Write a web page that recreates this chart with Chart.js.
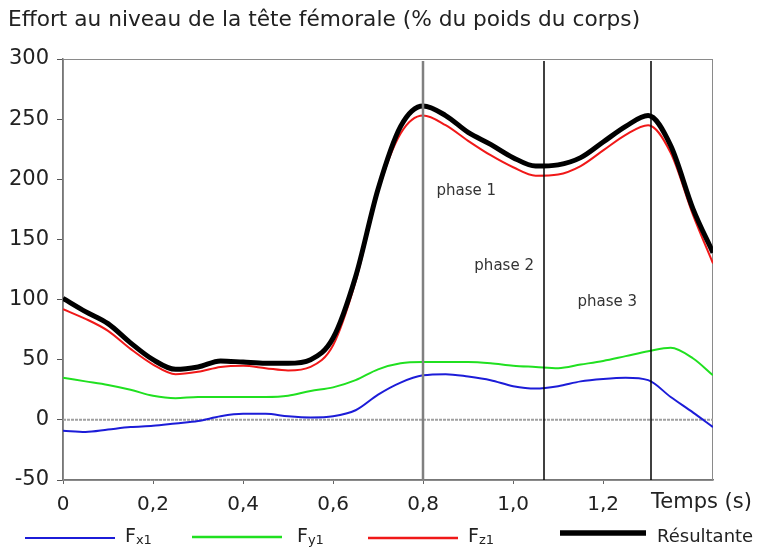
<!DOCTYPE html>
<html>
<head>
<meta charset="utf-8">
<script src="https://cdn.jsdelivr.net/npm/chart.js@4/dist/chart.umd.min.js"></script>
<style>
  body { margin: 0; background: #fff; }
  canvas { display: block; }
</style>
</head>
<body>
<canvas id="myChart" width="761" height="549"></canvas>
<script>
'use strict';

// Time (s), every 0.05 s
let temps = [0, 0.05, 0.1, 0.15, 0.2, 0.25, 0.3, 0.35, 0.4, 0.45, 0.5, 0.55, 0.6, 0.65, 0.7,
  0.75, 0.8, 0.85, 0.9, 0.95, 1.0, 1.05, 1.1, 1.15, 1.2, 1.25, 1.3, 1.35, 1.4, 1.444];

// Efforts (% du poids du corps)
let fx1 = [-9, -10, -8, -6, -5, -3, -1, 3, 5, 5, 3, 2, 3, 8, 21,
  31, 37, 38, 36, 33, 28, 26, 28, 32, 34, 35, 33, 19, 6, -6];
let fy1 = [35, 32, 29, 25, 20, 18, 19, 19, 19, 19, 20, 24, 27, 33, 42,
  47, 48, 48, 48, 47, 45, 44, 43, 46, 49, 53, 57, 60, 51, 37];
let fz1 = [92, 84, 74, 59, 46, 38, 40, 44, 45, 43, 41, 44, 62, 115, 190,
  238, 253, 245, 232, 220, 210, 203, 204, 211, 224, 237, 245, 222, 170, 130];
let resultante = [101, 90, 80, 64, 50, 42, 44, 49, 48, 47, 47, 50, 68, 119, 192,
  244, 261, 253, 239, 229, 218, 211, 212, 218, 231, 244, 253, 228, 175, 139];

// Phase boundaries and labels
let phaseLines = [0.8, 1.069, 1.307];
let phaseLabels = ['phase 1', 'phase 2', 'phase 3'];
let phaseLabelPos = [[0.896, 190], [0.98, 128], [1.209, 98]];

let yTicks = [-50, 0, 50, 100, 150, 200, 250, 300];

const FONT = '"DejaVu Sans", sans-serif';

function points(values) {
  return values.map((v, i) => ({ x: temps[i], y: v }));
}

// Extra drawing: title, frame, zero line, phase lines, legend
const decorations = {
  id: 'decorations',
  beforeDatasetsDraw(chart) {
    let ctx = chart.ctx;
    let a = chart.chartArea;
    let y0 = chart.scales.y.getPixelForValue(0);
    ctx.save();
    // frame
    ctx.strokeStyle = '#8a8a8a';
    ctx.lineWidth = 1;
    ctx.strokeRect(a.left + 0.5, a.top + 0.5, a.right - a.left - 1, a.bottom - a.top);
    // zero line
    ctx.strokeStyle = '#a0a0a0';
    ctx.lineWidth = 2;
    ctx.setLineDash([3, 1]);
    ctx.beginPath();
    ctx.moveTo(a.left, y0);
    ctx.lineTo(a.right, y0);
    ctx.stroke();
    ctx.restore();
  },
  afterDatasetsDraw(chart) {
    let ctx = chart.ctx;
    let a = chart.chartArea;
    let xs = chart.scales.x;
    let ys = chart.scales.y;
    ctx.save();
    // phase lines
    for (let i = 0; i < phaseLines.length; i++) {
      let px = Math.round(xs.getPixelForValue(phaseLines[i]));
      ctx.strokeStyle = i === 0 ? '#808080' : '#000';
      ctx.lineWidth = i === 0 ? 2.5 : 1.5;
      ctx.beginPath();
      ctx.moveTo(px, a.top + 2);
      ctx.lineTo(px, a.bottom);
      ctx.stroke();
    }
    // phase labels
    ctx.fillStyle = '#333';
    ctx.font = '15px ' + FONT;
    ctx.textAlign = 'center';
    ctx.textBaseline = 'middle';
    for (let i = 0; i < phaseLabels.length; i++) {
      ctx.fillText(phaseLabels[i], xs.getPixelForValue(phaseLabelPos[i][0]), ys.getPixelForValue(phaseLabelPos[i][1]));
    }
    ctx.restore();
  },
  afterDraw(chart) {
    let ctx = chart.ctx;
    ctx.save();
    ctx.fillStyle = '#222';
    ctx.textBaseline = 'alphabetic';
    ctx.textAlign = 'left';
    // title
    ctx.font = '21.7px ' + FONT;
    ctx.fillText('Effort au niveau de la tête fémorale (% du poids du corps)', 8, 26);
    // axis name
    ctx.font = '21px ' + FONT;
    ctx.fillText('Temps (s)', 651, 508);

    // legend
    let items = [
      { color: '#1c1cd8', width: 2, x1: 25, x2: 115, y: 538, sub: 'x1', tx: 125 },
      { color: '#20e020', width: 2.5, x1: 192, x2: 282, y: 537, sub: 'y1', tx: 297 },
      { color: '#f01818', width: 2.5, x1: 368, x2: 458, y: 538, sub: 'z1', tx: 468 },
      { color: '#000', width: 5.5, x1: 560, x2: 646, y: 533, sub: null, tx: 657 }
    ];
    for (let i = 0; i < items.length; i++) {
      let it = items[i];
      ctx.strokeStyle = it.color;
      ctx.lineWidth = it.width;
      ctx.beginPath();
      ctx.moveTo(it.x1, it.y);
      ctx.lineTo(it.x2, it.y);
      ctx.stroke();
      if (it.sub) {
        ctx.font = '19px ' + FONT;
        ctx.fillText('F', it.tx, 542);
        let w = ctx.measureText('F').width;
        ctx.font = '13px ' + FONT;
        ctx.fillText(it.sub, it.tx + w, 544);
      } else {
        ctx.font = '18px ' + FONT;
        ctx.fillText('Résultante', it.tx, 542);
      }
    }
    ctx.restore();
  }
};

const data = {
  datasets: [
    { label: 'Résultante', data: points(resultante), borderColor: '#000', borderWidth: 5 },
    { label: 'Fz1', data: points(fz1), borderColor: '#f01818', borderWidth: 2 },
    { label: 'Fy1', data: points(fy1), borderColor: '#20e020', borderWidth: 2 },
    { label: 'Fx1', data: points(fx1), borderColor: '#1c1cd8', borderWidth: 2 }
  ]
};

const config = {
  type: 'line',
  data: data,
  plugins: [decorations],
  options: {
    responsive: false,
    animation: false,
    layout: { padding: { left: 0, right: 48, top: 59, bottom: 0 } },
    elements: {
      point: { radius: 0 },
      line: { cubicInterpolationMode: 'monotone', fill: false }
    },
    plugins: {
      legend: { display: false },
      title: { display: false },
      tooltip: { enabled: false }
    },
    scales: {
      x: {
        type: 'linear',
        min: 0,
        max: 1.444,
        afterFit: (scale) => { scale.height = 69; },
        afterBuildTicks: (scale) => {
          scale.ticks = scale.ticks.filter(t => t.value <= 1.21);
        },
        ticks: {
          stepSize: 0.2,
          color: '#222',
          padding: 9,
          maxRotation: 0,
          font: { family: FONT, size: 20 },
          callback: (v) => v === 0 ? '0' : v.toFixed(1).replace('.', ',')
        },
        grid: { drawOnChartArea: false, drawTicks: true, tickLength: 4, color: '#666' },
        border: { display: true, color: '#777', width: 1.5 }
      },
      y: {
        type: 'linear',
        min: -50,
        max: 300,
        afterFit: (scale) => { scale.width = 63; },
        afterBuildTicks: (scale) => {
          scale.ticks = yTicks.map(v => ({ value: v }));
        },
        ticks: {
          color: '#222',
          padding: 8,
          font: { family: FONT, size: 21 }
        },
        grid: { drawOnChartArea: false, drawTicks: true, tickLength: 6, color: '#555' },
        border: { display: true, color: '#777', width: 1.5 }
      }
    }
  }
};

const myChart = new Chart(document.getElementById('myChart'), config);
</script>
</body>
</html>
